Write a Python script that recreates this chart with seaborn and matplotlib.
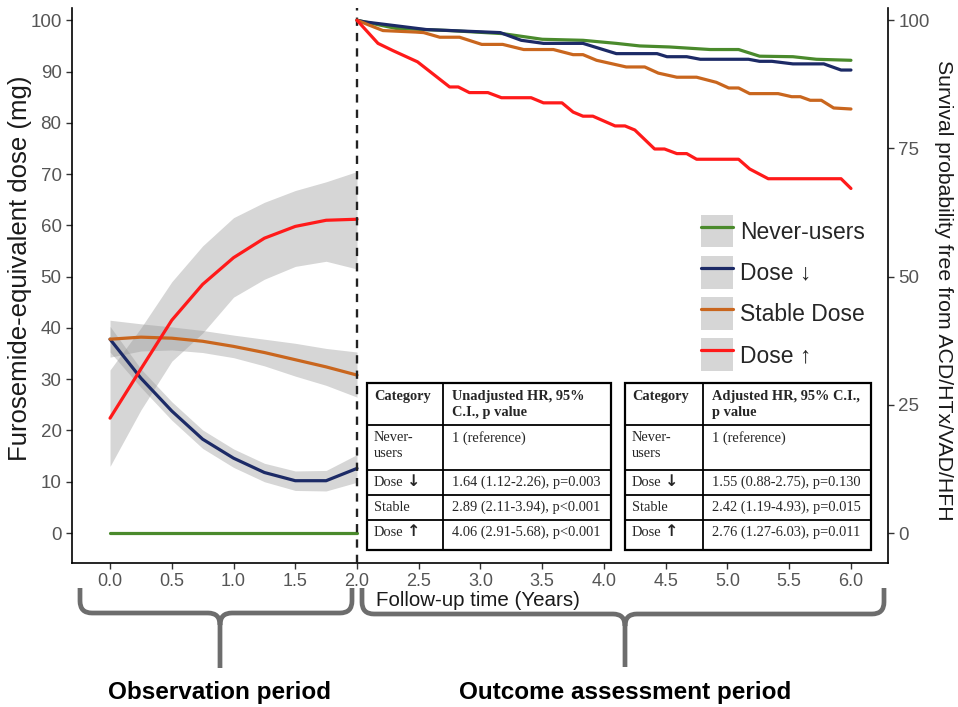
import matplotlib
matplotlib.use("Agg")
import numpy as np
import pandas as pd
import seaborn as sns
import matplotlib.pyplot as plt
from matplotlib.patches import Patch, Rectangle, PathPatch
from matplotlib.lines import Line2D
from matplotlib.path import Path
from matplotlib.legend_handler import HandlerTuple

# ---------------- data ----------------
groups = ["Never-users", "Dose ↓", "Stable Dose", "Dose ↑"]
colors = ["#4a8a2c", "#1c2a66", "#c9661e", "#ff1a1a"]

# observation period (dose trajectories, smoothed with CI)
obs_t = [0.0, 0.25, 0.5, 0.75, 1.0, 1.25, 1.5, 1.75, 2.0]
never_dose = [0, 0, 0, 0, 0, 0, 0, 0, 0]
down_dose = [37.8, 30.2, 23.8, 18.3, 14.6, 11.8, 10.2, 10.2, 12.6]
down_lo = [35.3, 28.4, 22.0, 16.5, 12.8, 10.0, 8.3, 8.2, 9.9]
down_hi = [40.3, 32.0, 25.6, 20.1, 16.4, 13.6, 12.1, 12.2, 15.3]
stable_dose = [37.8, 38.2, 38.0, 37.4, 36.4, 35.2, 33.8, 32.4, 30.8]
stable_lo = [34.3, 35.5, 35.7, 35.2, 34.2, 32.6, 30.6, 28.8, 26.5]
stable_hi = [41.5, 40.8, 40.2, 39.5, 38.6, 37.8, 37.0, 36.0, 35.3]
up_dose = [22.4, 32.0, 41.5, 48.5, 53.7, 57.5, 59.8, 61.0, 61.2]
up_lo = [13.0, 24.0, 33.5, 39.0, 46.0, 49.5, 52.0, 53.0, 51.5]
up_hi = [31.8, 40.0, 49.0, 56.0, 61.5, 64.5, 66.8, 68.5, 70.5]

# outcome assessment period (survival, %)
never_t = [2.0, 2.32, 2.75, 3.18, 3.50, 3.83, 4.10, 4.29, 4.53, 4.86, 5.09, 5.26, 5.53, 5.72, 6.0]
never_s = [100, 98.4, 98.0, 97.4, 96.3, 96.1, 95.5, 95.0, 94.8, 94.3, 94.3, 93.0, 92.9, 92.4, 92.2]
down_t = [2.0, 2.06, 2.56, 3.16, 3.33, 3.51, 3.83, 4.10, 4.43, 4.51, 4.67, 4.78, 5.17, 5.26,
          5.36, 5.53, 5.78, 5.92, 6.0]
down_s = [100, 99.7, 98.2, 97.6, 96.1, 95.5, 95.5, 93.5, 93.5, 92.9, 92.9, 92.4, 92.4, 92.0,
          92.0, 91.5, 91.5, 90.3, 90.3]
stable_t = [2.0, 2.21, 2.48, 2.54, 2.67, 2.83, 3.01, 3.18, 3.35, 3.59, 3.75, 3.83, 3.94, 4.18,
            4.33, 4.44, 4.59, 4.75, 4.91, 5.01, 5.09, 5.18, 5.41, 5.52, 5.59, 5.67, 5.76, 5.86, 6.0]
stable_s = [100, 98.0, 97.7, 97.6, 96.7, 96.7, 95.3, 95.3, 94.3, 94.3, 93.3, 93.3, 92.2, 90.9,
            90.9, 89.7, 88.9, 88.9, 87.9, 86.8, 86.8, 85.7, 85.7, 85.1, 85.1, 84.4, 84.4, 82.9, 82.7]
up_t = [2.0, 2.17, 2.29, 2.49, 2.75, 2.82, 2.91, 3.06, 3.17, 3.41, 3.51, 3.66, 3.75, 3.83,
        3.91, 4.09, 4.17, 4.25, 4.41, 4.49, 4.59, 4.67, 4.75, 5.09, 5.18, 5.33, 5.92, 6.0]
up_s = [100, 95.5, 94.1, 91.9, 87.0, 87.0, 85.9, 85.9, 84.9, 84.9, 83.9, 83.9, 82.1, 81.3,
        81.3, 79.4, 79.4, 78.6, 74.9, 74.9, 74.0, 74.0, 72.9, 72.9, 71.0, 69.1, 69.1, 67.2]

x_ticks = [0.0, 0.5, 1.0, 1.5, 2.0, 2.5, 3.0, 3.5, 4.0, 4.5, 5.0, 5.5, 6.0]
left_ticks = [0, 10, 20, 30, 40, 50, 60, 70, 80, 90, 100]
right_ticks = [0, 25, 50, 75, 100]

table_categories = ["Never-\nusers", "Dose", "Stable", "Dose"]
table_arrows = ["", "↓", "", "↑"]
unadjusted_hr = ["1 (reference)", "1.64 (1.12-2.26), p=0.003",
                 "2.89 (2.11-3.94), p<0.001", "4.06 (2.91-5.68), p<0.001"]
adjusted_hr = ["1 (reference)", "1.55 (0.88-2.75), p=0.130",
               "2.42 (1.19-4.93), p=0.015", "2.76 (1.27-6.03), p=0.011"]

# ---------------- style ----------------
sns.set_style("white")
plt.rcParams["font.family"] = ["Liberation Sans", "DejaVu Sans"]

W, H = 958, 707
fig = plt.figure(figsize=(W / 100, H / 100), dpi=100)


def F(x, y):
    return (x / W, 1 - y / H)


ax = fig.add_axes([72 / W, (H - 563) / H, (888 - 72) / W, (563 - 8) / H])
xlim = (-0.308, 6.30)
ylim = (-5.85, 102.4)

# observation-period bands and curves
obs_df = pd.DataFrame({
    "t": obs_t * 4,
    "dose": never_dose + down_dose + stable_dose + up_dose,
    "group": sum([[g] * len(obs_t) for g in groups], []),
})
for lo, hi in [(down_lo, down_hi), (stable_lo, stable_hi), (up_lo, up_hi)]:
    ax.fill_between(obs_t, lo, hi, color="#999999", alpha=0.4, lw=0, zorder=1)
sns.lineplot(data=obs_df, x="t", y="dose", hue="group", hue_order=groups,
             palette=colors, lw=2.3, legend=False, ax=ax, estimator=None, sort=False, zorder=2)

ax.axvline(2.0, color="#222222", ls=(0, (3.5, 3)), lw=1.7, zorder=3)

ax.set_xlim(*xlim)
ax.set_ylim(*ylim)
ax.set_xticks(x_ticks)
ax.set_xticklabels([f"{v:.1f}" for v in x_ticks])
ax.set_yticks(left_ticks)
ax.set_xlabel("")
ax.set_ylabel("")
for s in ["top", "right"]:
    ax.spines[s].set_visible(False)
for s in ["left", "bottom"]:
    ax.spines[s].set_color("black")
    ax.spines[s].set_linewidth(1.2)
ax.tick_params(axis="y", direction="out", length=4, width=1, color="#333333",
               labelcolor="#555555", labelsize=13.5, left=True)
ax.tick_params(axis="x", direction="out", length=4, width=1, color="#333333",
               labelcolor="#555555", labelsize=13, bottom=True, pad=3)

# survival curves on right axis
ax2 = ax.twinx()
surv_df = pd.DataFrame({
    "t": never_t + down_t + stable_t + up_t,
    "surv": never_s + down_s + stable_s + up_s,
    "group": [groups[0]] * len(never_t) + [groups[1]] * len(down_t)
             + [groups[2]] * len(stable_t) + [groups[3]] * len(up_t),
})
sns.lineplot(data=surv_df, x="t", y="surv", hue="group", hue_order=groups,
             palette=colors, lw=2.3, legend=False, ax=ax2, estimator=None, sort=False)
ax2.set_ylim(*ylim)
ax2.set_xlim(*xlim)
ax2.set_yticks(right_ticks)
ax2.set_ylabel("")
ax2.set_xlabel("")
for s in ["top", "left", "bottom"]:
    ax2.spines[s].set_visible(False)
ax2.spines["right"].set_color("black")
ax2.spines["right"].set_linewidth(1.2)
ax2.tick_params(axis="y", direction="out", length=4, width=1, color="#333333",
                labelcolor="#555555", labelsize=13.5, right=True)

# legend (ggplot-like keys)
handles = [(Patch(facecolor="#d6d6d6", edgecolor="none"), Line2D([], [], color=c, lw=2.3))
           for c in colors]
ax2.legend(handles, groups, handler_map={tuple: HandlerTuple(ndivide=1, pad=0)},
           loc="upper left", bbox_to_anchor=F(701, 215), bbox_transform=fig.transFigure,
           frameon=False, fontsize=16.5, handlelength=1.4, handleheight=1.8,
           labelspacing=0.38, handletextpad=0.3, borderpad=0, borderaxespad=0)

# axis titles
fig.text(*F(20, 268), "Furosemide-equivalent dose (mg)", rotation=90, ha="center",
         va="center", fontsize=18.5, color="#1a1a1a")
fig.text(*F(944, 290), "Survival probability free from ACD/HTx/VAD/HFH", rotation=270,
         ha="center", va="center", fontsize=15.3, color="#1a1a1a")
fig.text(*F(376, 601), "Follow-up time (Years)", ha="left", va="center", fontsize=14.8,
         color="#1a1a1a")

# tables
serif = ["Liberation Serif", "DejaVu Serif"]
row_y = [383, 425, 470, 495, 520, 550]
tfs = 10.4


def draw_table(x0, xc, x1, header2, values):
    fig.add_artist(Rectangle(F(x0, row_y[-1]), (x1 - x0) / W, (row_y[-1] - row_y[0]) / H,
                             transform=fig.transFigure, facecolor="white",
                             edgecolor="black", lw=1.6, zorder=5))
    for yy in row_y[1:-1]:
        fig.add_artist(Line2D([x0 / W, x1 / W], [1 - yy / H] * 2, transform=fig.transFigure,
                              color="black", lw=1.3, zorder=6))
    fig.add_artist(Line2D([xc / W] * 2, [1 - row_y[0] / H, 1 - row_y[-1] / H],
                          transform=fig.transFigure, color="black", lw=1.3, zorder=6))
    fig.text(*F(x0 + 7, row_y[0] + 7), "Category", ha="left", va="top", fontsize=tfs,
             family=serif, fontweight="bold", zorder=7)
    fig.text(*F(xc + 9, row_y[0] + 7), header2, ha="left", va="top", fontsize=tfs,
             family=serif, fontweight="bold", linespacing=1.3, zorder=7)
    for i in range(4):
        top = row_y[i + 1]
        fig.text(*F(x0 + 7, top + 6), table_categories[i], ha="left", va="top",
                 fontsize=tfs, family=serif, linespacing=1.3, zorder=7)
        if table_arrows[i]:
            fig.text(*F(x0 + 40, top + 4), table_arrows[i], ha="left", va="top",
                     fontsize=11.5, family=["DejaVu Sans"], fontweight="bold", zorder=7)
        fig.text(*F(xc + 9, top + 6), values[i], ha="left", va="top", fontsize=tfs,
                 family=serif, zorder=7)


draw_table(367, 443, 611, "Unadjusted HR, 95%\nC.I., p value", unadjusted_hr)
draw_table(625, 703, 871, "Adjusted HR, 95% C.I.,\np value", adjusted_hr)


# braces
def brace(xl, xr, xm, ytop, yh, ybot, r=12):
    verts = [(xl, ytop), (xl, yh - r), (xl, yh), (xl + r, yh), (xm - r, yh), (xm, yh),
             (xm, yh + r), (xm, ybot),
             (xm, yh + r), (xm, yh), (xm + r, yh), (xr - r, yh), (xr, yh), (xr, yh - r),
             (xr, ytop)]
    codes = [Path.MOVETO, Path.LINETO, Path.CURVE3, Path.CURVE3, Path.LINETO, Path.CURVE3,
             Path.CURVE3, Path.LINETO,
             Path.MOVETO, Path.CURVE3, Path.CURVE3, Path.LINETO, Path.CURVE3, Path.CURVE3,
             Path.LINETO]
    pts = [F(x, y) for x, y in verts]
    fig.add_artist(PathPatch(Path(pts, codes), transform=fig.transFigure, facecolor="none",
                             edgecolor="#6d6d6d", lw=3.4, capstyle="butt", joinstyle="round"))


brace(80, 352, 220, 588, 613, 668)
brace(362, 884, 625, 588, 614, 667)

fig.text(*F(220, 692), "Observation period", ha="center", va="center", fontsize=17.5,
         fontweight="bold", color="black")
fig.text(*F(625, 692), "Outcome assessment period", ha="center", va="center", fontsize=17.5,
         fontweight="bold", color="black")

fig.savefig("out.png", dpi=100)
